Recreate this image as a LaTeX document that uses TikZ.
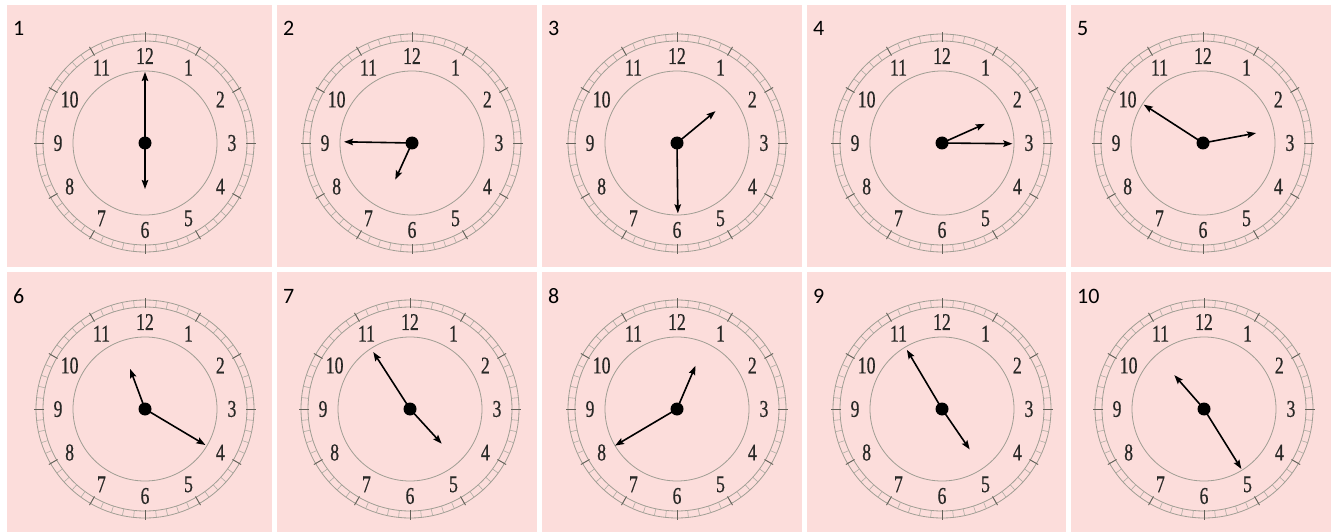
\documentclass[tikz,border=0pt]{standalone}
\usepackage{fontspec}
\newfontfamily\labelfont{Carlito}
\newfontfamily\numfont[FakeBold=0.6]{Liberation Serif}
\usetikzlibrary{arrows.meta}
\definecolor{panelpink}{RGB}{252,221,219}
\definecolor{ringgray}{RGB}{160,158,148}
\definecolor{tickdark}{RGB}{100,98,90}
\definecolor{numgray}{RGB}{40,40,38}
\tikzset{
  panel/.style={fill=panelpink, draw=none},
  ring/.style={draw=ringgray, line width=0.8pt},
  minortick/.style={draw=ringgray!85!white, line width=0.6pt},
  majortick/.style={draw=tickdark, line width=0.9pt},
  hand/.style={line width=1.6pt, -{Stealth[length=9pt,width=6.5pt,inset=1.5pt]}},
  hub/.style={circle, fill=black, minimum size=13pt, inner sep=0pt},
  numeral/.style={text=numgray, font=\numfont\fontsize{24}{24}\selectfont, inner sep=0pt},
  tag/.style={font=\labelfont\fontsize{22}{22}\selectfont, anchor=base west, inner sep=0pt},
}
\begin{document}
\begin{tikzpicture}[x=1pt,y=1pt]
\useasboundingbox (0,0) rectangle (1331,-532);
\fill[white] (0,0) rectangle (1331,-532);
\foreach \n/\px/\qx/\py/\qy/\cx/\cy/\ha/\hl/\ma/\ml in {
 1/7/272/5/267/145/143/180/46/0/71,
 2/277/537/5/267/412/143/204.5/40.3/271/68,
 3/542/802/5/267/677/143/50.4/50/179.3/70.3,
 4/807/1066/5/267/942/143/65.9/47/90.6/70.4,
 5/1071/1331/5/267/1203/143/79.4/54/302.9/70.6,
 6/7/272/272/532/145/409/339.6/42.7/120.8/70.3,
 7/277/537/272/532/410/409/137.6/47/327.2/67.8,
 8/542/802/272/532/677/409/23.2/47/239.4/72,
 9/807/1066/272/532/942/409/145.6/49/329.3/68.7,
 10/1071/1331/272/532/1204/409/318.8/45/148.1/70.6}{
  \fill[panel] (\px,-\py) rectangle (\qx,-\qy);
  \node[tag] (tag\n) at (\px+6,-\py-31) {\n};
  \coordinate (c\n) at (\cx,-\cy);
  \draw[ring] (c\n) circle[radius=109];
  \draw[ring] (c\n) circle[radius=102];
  \draw[ring] (c\n) circle[radius=72];
  \foreach \i in {0,...,59}{
    \draw[minortick] (c\n) ++(\i*6:102) -- ++(\i*6:7);
  }
  \foreach \i in {0,...,11}{
    \draw[majortick] (c\n) ++(\i*30:101) -- ++(\i*30:10);
  }
  \foreach \k in {1,...,12}{
    \path (c\n) ++(90-30*\k:87) node[numeral] (num\n-\k) {\scalebox{0.74}[1]{\k}};
  }
  \path (c\n) ++(90-\ha:\hl) coordinate (a\n);
  \path (c\n) ++(90-\ma:\ml) coordinate (b\n);
  \node[hub] (hub\n) at (c\n) {};
  \draw[hand] (hub\n.center) -- (a\n);
  \draw[hand] (hub\n.center) -- (b\n);
}
\end{tikzpicture}
\end{document}
